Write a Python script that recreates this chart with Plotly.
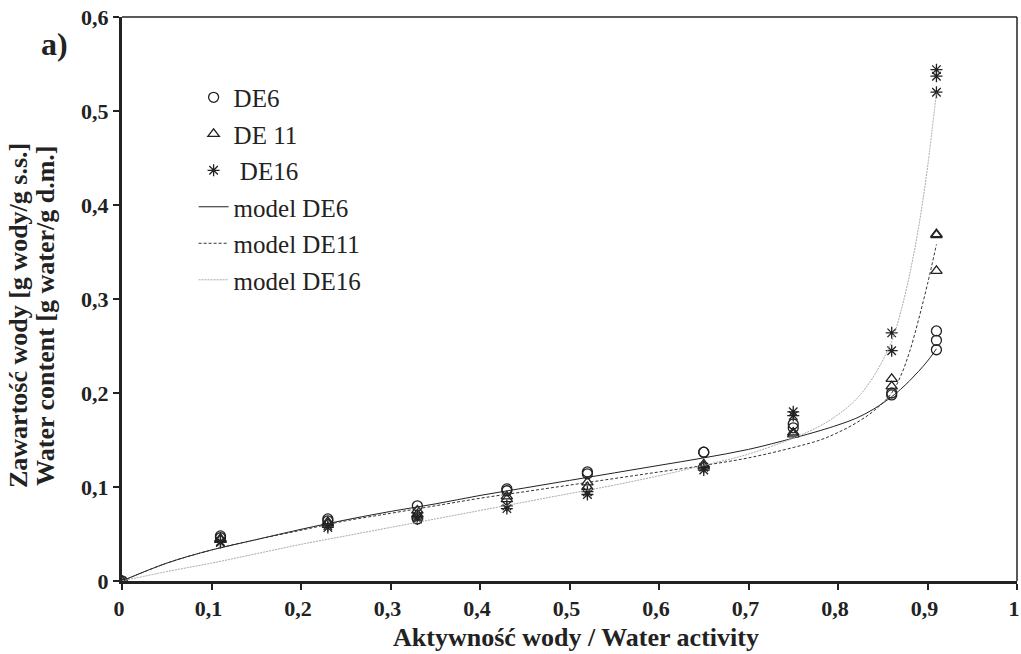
import plotly.graph_objects as go

# measured points
aw_pts = [0, 0.11, 0.11, 0.23, 0.23, 0.33, 0.33, 0.43, 0.43, 0.52, 0.52, 0.65, 0.65, 0.75, 0.75, 0.86, 0.86, 0.91, 0.91, 0.91]
de6_pts = [0, 0.048, 0.046, 0.066, 0.064, 0.080, 0.066, 0.098, 0.096, 0.116, 0.114, 0.137, 0.137, 0.167, 0.163, 0.200, 0.198, 0.266, 0.256, 0.246]
de11_pts = [0, 0.045, 0.044, 0.063, 0.061, 0.075, 0.071, 0.090, 0.087, 0.105, 0.100, 0.124, 0.122, 0.158, 0.156, 0.215, 0.207, 0.369, 0.368, 0.330]
de16_pts = [0, 0.042, 0.041, 0.059, 0.057, 0.068, 0.066, 0.080, 0.077, 0.095, 0.092, 0.121, 0.118, 0.180, 0.176, 0.264, 0.245, 0.544, 0.537, 0.520]

# model curves
aw_model = [0, 0.05, 0.1, 0.15, 0.2, 0.25, 0.3, 0.35, 0.4, 0.45, 0.5, 0.55, 0.6, 0.65, 0.7, 0.75,
            0.78, 0.8, 0.82, 0.84, 0.86, 0.87, 0.88, 0.89, 0.9, 0.91]
model_de6 = [0, 0.019, 0.033, 0.044, 0.055, 0.065, 0.074, 0.082, 0.091, 0.099, 0.107, 0.115, 0.123, 0.131, 0.140, 0.152,
             0.160, 0.166, 0.173, 0.183, 0.196, 0.204, 0.213, 0.223, 0.234, 0.247]
model_de11 = [0, 0.019, 0.033, 0.044, 0.054, 0.064, 0.072, 0.080, 0.088, 0.095, 0.102, 0.109, 0.116, 0.123, 0.131, 0.142,
              0.150, 0.158, 0.168, 0.181, 0.200, 0.218, 0.244, 0.278, 0.316, 0.358]
model_de16 = [0, 0.010, 0.019, 0.029, 0.039, 0.048, 0.057, 0.066, 0.075, 0.084, 0.093, 0.102, 0.112, 0.123, 0.135, 0.152,
              0.165, 0.177, 0.193, 0.218, 0.255, 0.286, 0.326, 0.376, 0.440, 0.520]

x_ticks = [0, 0.1, 0.2, 0.3, 0.4, 0.5, 0.6, 0.7, 0.8, 0.9, 1]
x_ticklabels = ["0", "0,1", "0,2", "0,3", "0,4", "0,5", "0,6", "0,7", "0,8", "0,9", "1"]
y_ticks = [0, 0.1, 0.2, 0.3, 0.4, 0.5, 0.6]
y_ticklabels = ["0", "0,1", "0,2", "0,3", "0,4", "0,5", "0,6"]

FONT = "Liberation Serif, Times New Roman, serif"
INK = "#222222"

fig = go.Figure()
mk = dict(color=INK, size=10, line=dict(color=INK, width=1.3))
fig.add_trace(go.Scatter(x=aw_pts, y=de6_pts, mode="markers", name="DE6", legendgroup="a",
                         marker=dict(symbol="circle-open", **mk)))
fig.add_trace(go.Scatter(x=aw_pts, y=de11_pts, mode="markers", name="DE 11", legendgroup="b",
                         marker=dict(symbol="triangle-up-open", **mk)))
fig.add_trace(go.Scatter(x=aw_pts, y=de16_pts, mode="markers", name=" DE16", legendgroup="c",
                         marker=dict(symbol="asterisk-open", **mk)))
fig.add_trace(go.Scatter(x=aw_model, y=model_de6, mode="lines", name="model DE6", legendgroup="d",
                         line=dict(color=INK, width=1, shape="spline")))
fig.add_trace(go.Scatter(x=aw_model, y=model_de11, mode="lines", name="model DE11", legendgroup="e",
                         line=dict(color="#333333", width=1, dash="3px,2px", shape="spline")))
fig.add_trace(go.Scatter(x=aw_model, y=model_de16, mode="lines", name="model DE16", legendgroup="f",
                         line=dict(color="#aaaaaa", width=1, dash="2px,1px", shape="spline")))

axis_common = dict(showgrid=False, zeroline=False, showline=True, linecolor=INK, linewidth=3,
                   ticks="outside", ticklen=6, tickwidth=2, tickcolor=INK, automargin=False,
                   tickfont=dict(family=FONT, size=22, color=INK, weight="bold"))

fig.update_layout(
    width=1021, height=654,
    margin=dict(l=122, r=4, t=17, b=73),
    paper_bgcolor="white", plot_bgcolor="white",
    font=dict(family=FONT, color=INK),
    xaxis=dict(range=[0, 1], tickvals=x_ticks, ticktext=x_ticklabels, ticklabelshift=-3, **axis_common),
    yaxis=dict(range=[0, 0.6], tickvals=y_ticks, ticktext=y_ticklabels, **axis_common),
    legend=dict(x=0.08, y=0.898, xanchor="left", yanchor="top", bgcolor="rgba(0,0,0,0)",
                font=dict(family=FONT, size=25, color=INK), traceorder="grouped",
                tracegroupgap=1, itemwidth=30),
    showlegend=True,
)

# thin top and right frame lines
fig.add_shape(type="line", xref="paper", yref="paper", x0=0, x1=1, y0=1, y1=1,
              line=dict(color=INK, width=1.5))
fig.add_shape(type="line", xref="paper", yref="paper", x0=1, x1=1, y0=0, y1=1,
              line=dict(color=INK, width=1.5))

# axis titles
fig.add_annotation(text="<b>Aktywność wody / Water activity</b>", xref="paper", yref="paper",
                   x=0.507, y=-0.1, xanchor="center", yanchor="middle", showarrow=False,
                   font=dict(family=FONT, size=26, color=INK))
fig.add_annotation(text="<b>Zawartość wody [g wody/g s.s.]</b>", xref="paper", yref="paper",
                   x=-0.115, y=0.47, xanchor="center", yanchor="middle", showarrow=False, textangle=-90,
                   font=dict(family=FONT, size=26, color=INK))
fig.add_annotation(text="<b>Water content [g water/g d.m.]</b>", xref="paper", yref="paper",
                   x=-0.085, y=0.47, xanchor="center", yanchor="middle", showarrow=False, textangle=-90,
                   font=dict(family=FONT, size=26, color=INK))

fig.add_annotation(text="<b>a)</b>", xref="paper", yref="paper", x=-0.075, y=0.953,
                   xanchor="center", yanchor="middle", showarrow=False,
                   font=dict(family=FONT, size=32, color=INK))

# remove the default page margin so the figure fills the window exactly
fig.write_html("out.html", config={"displayModeBar": False},
               post_script="document.body.style.margin='0';document.body.style.overflow='hidden';")
